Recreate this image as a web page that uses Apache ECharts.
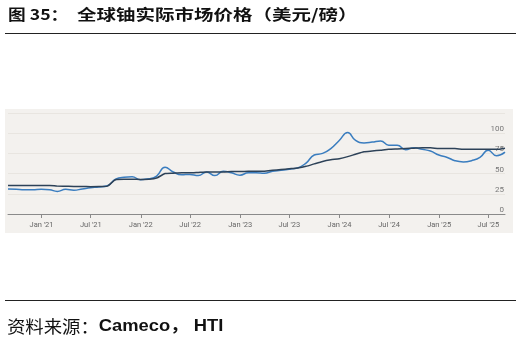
<!DOCTYPE html>
<html>
<head>
<meta charset="utf-8">
<script src="https://cdn.jsdelivr.net/npm/echarts@6/dist/echarts.min.js"></script>
<style>
html,body{margin:0;padding:0;background:#fff;}
#c{width:521px;height:345px;}
</style>
</head>
<body>
<div id="c"></div>
<script>
// Month-end observations (YYYY-MM)
const months = [
 '2020-08','2020-09','2020-10','2020-11','2020-12',
 '2021-01','2021-02','2021-03','2021-04','2021-05','2021-06','2021-07','2021-08','2021-09','2021-10','2021-11','2021-12',
 '2022-01','2022-02','2022-03','2022-04','2022-05','2022-06','2022-07','2022-08','2022-09','2022-10','2022-11','2022-12',
 '2023-01','2023-02','2023-03','2023-04','2023-05','2023-06','2023-07','2023-08','2023-09','2023-10','2023-11','2023-12',
 '2024-01','2024-02','2024-03','2024-04','2024-05','2024-06','2024-07','2024-08','2024-09','2024-10','2024-11','2024-12',
 '2025-01','2025-02','2025-03','2025-04','2025-05','2025-06','2025-07','2025-08'
];
// Spot price (USD/lb)
const spotPrice = [
 31, 30.5, 30, 30, 30.6,
 30, 28, 30.5, 29.5, 31, 32.5, 33.5, 35, 43, 45.5, 46, 42.5,
 43.5, 47, 58, 52, 48.5, 49, 47.5, 52, 47.5, 53, 51, 48,
 51, 51, 50.5, 53, 54, 55.5, 57, 63, 73, 75, 81, 91,
 100.8, 91, 88, 89, 90.5, 85, 85, 79.5, 82, 80, 78, 73,
 70, 66, 64.5, 66, 70, 79, 72, 76.5
];
// Long-term price (USD/lb)
const termPrice = [
 35.4, 35.4, 35.4, 35.4, 35.4,
 35.4, 34.5, 34.3, 34, 34, 33.8, 34, 34.5, 42.5, 43, 43, 42.8,
 43, 44.5, 50, 50.5, 51, 51, 51.5, 52, 52, 52, 52.5, 52.5,
 53, 53, 53, 54, 55, 56, 57, 59, 62, 65, 67, 68.5,
 71, 74, 77, 78, 79, 80, 80.5, 81, 81.5, 82, 82, 81,
 81, 81, 80, 80, 80, 80, 80, 81.5
];
const tickDates = ['2021-01-01','2021-07-01','2022-01-01','2022-07-01','2023-01-01','2023-07-01','2024-01-01','2024-07-01','2025-01-01','2025-07-01'];
const tickLabels = ["Jan '21","Jul '21","Jan '22","Jul '22","Jan '23","Jul '23","Jan '24","Jul '24","Jan '25","Jul '25"];
const yTicks = [0, 25, 50, 75, 100];

function monthEnd(ym){
  const [y,m] = ym.split('-').map(Number);
  return Date.UTC(y, m, 0);
}
const ts = months.map(monthEnd);
const tickTs = tickDates.map(d => Date.parse(d + 'T00:00:00Z'));
const labelMap = {};
tickTs.forEach((t,i)=>{ labelMap[t] = tickLabels[i]; });

const chart = echarts.init(document.getElementById('c'), null, {renderer:'canvas'});
chart.setOption({
  backgroundColor: '#ffffff',
  animation: false,
  grid: {left: 8, right: 16, top: 113, bottom: 131, containLabel: false},
  xAxis: {
    type: 'value',
    min: ts[0], max: ts[ts.length-1],
    axisLine: {show: true, lineStyle: {color: '#8a8a8a', width: 1}},
    axisTick: {show: true, customValues: tickTs, length: 4, lineStyle: {color: '#8a8a8a'}},
    axisLabel: {customValues: tickTs, formatter: v => labelMap[v] || '', color: '#666', fontSize: 7.5, fontFamily: 'Roboto', margin: 7},
    splitLine: {show: false}
  },
  yAxis: {
    type: 'value', position: 'right',
    min: 0, max: 125, interval: 25,
    axisLine: {show: false}, axisTick: {show: false},
    axisLabel: {inside: true, formatter: v => yTicks.indexOf(v) >= 0 ? String(v) : '', color: '#777', fontSize: 8, fontFamily: 'Roboto', verticalAlign: 'bottom', margin: 1},
    splitLine: {show: true, lineStyle: {color: '#e8e5e0', width: 1}}
  },
  series: [
    {type: 'line', name: 'Long-term', data: ts.map((t,i)=>[t, termPrice[i]]), symbol: 'none', smooth: 0.2,
     lineStyle: {color: '#2d4258', width: 1.5}, z: 3},
    {type: 'line', name: 'Spot', data: ts.map((t,i)=>[t, spotPrice[i]]), symbol: 'none', smooth: 0.5,
     lineStyle: {color: '#3a7dbf', width: 1.5}, z: 2}
  ],
  graphic: [
    {type: 'rect', z: -10, shape: {x: 5, y: 109, width: 508, height: 124}, style: {fill: '#f3f1ee'}, silent: true},
    {type: 'text', left: 8, top: 7, scaleX: 1.18, style: {text: '图 35：', font: 'bold 15px "Noto Sans CJK SC", sans-serif', fill: '#111'}},
    {type: 'text', left: 77, top: 7, scaleX: 1.3, style: {text: '全球铀实际市场价格（美元/磅）', font: 'bold 15px "Noto Sans CJK SC", sans-serif', fill: '#111'}},
    {type: 'line', shape: {x1: 5, y1: 33.5, x2: 516, y2: 33.5}, style: {stroke: '#222', lineWidth: 1.2}},
    {type: 'line', shape: {x1: 5, y1: 300.5, x2: 516, y2: 300.5}, style: {stroke: '#222', lineWidth: 1.2}},
    {type: 'text', left: 7, top: 318, scaleX: 1.08, style: {
      text: '{a|资料来源：}{b|Cameco， HTI}',
      rich: {
        a: {font: '17px "Noto Sans CJK SC", sans-serif', fill: '#111'},
        b: {font: 'bold 17px "Liberation Sans", "Noto Sans CJK SC", sans-serif', fill: '#111'}
      }
    }}
  ]
});
</script>
</body>
</html>
